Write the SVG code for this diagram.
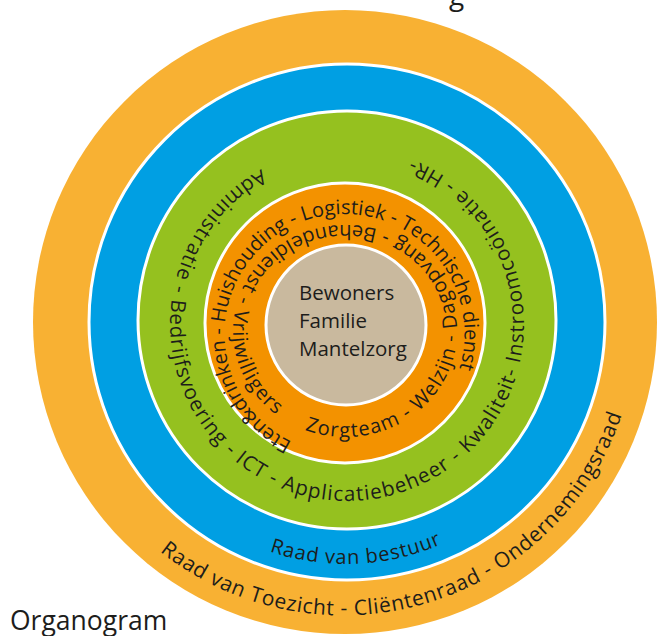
<svg xmlns="http://www.w3.org/2000/svg" xmlns:xlink="http://www.w3.org/1999/xlink" width="671" height="636" viewBox="0 0 671 636">
  <style>
    .t { font-family: "Open Sans", "Noto Sans", "Liberation Sans", sans-serif; fill: #1d1d1b; }
    .ring { stroke: #ffffff; stroke-width: 3; }
  </style>
  <defs>
    <path id="pOuter" d="M160.0,551.5 A294,294 0 0 0 630.1,384.5"/>
    <path id="pBlue" d="M269.5,551.5 A241,241 0 0 0 484.2,520.4"/>
    <path id="pGreen" d="M261.2,169.2 A177,177 0 0 0 230.9,457.6 A177,177 0 0 0 512.2,387.4 A177,177 0 0 0 350.1,147.0"/>
    <path id="pInner1" d="M291.9,441.9 A120,120 0 0 1 235.7,283.3 A120,120 0 0 1 395.2,225.2 A120,120 0 0 1 453.3,384.7"/>
    <path id="pInner2" d="M304.9,430.0 A112,106 0 0 0 455.9,316.2 A112,106 0 0 0 277.6,246.3 A112,106 0 0 0 299.4,427.8"/>
  </defs>

  <rect width="671" height="636" fill="#ffffff"/>

  <text class="t" x="449" y="5" font-size="28">g</text>

  <g id="raad-van-toezicht">
    <circle cx="345" cy="322" r="312" fill="#f8b133"/>
    <text class="t" font-size="21"><textPath xlink:href="#pOuter" href="#pOuter" textLength="564" lengthAdjust="spacing">Raad van Toezicht - Cliëntenraad - Ondernemingsraad</textPath></text>
  </g>

  <g id="raad-van-bestuur">
    <circle class="ring" cx="347" cy="322" r="258" fill="#009fe3"/>
    <text class="t" font-size="20"><textPath xlink:href="#pBlue" href="#pBlue" textLength="176" lengthAdjust="spacing">Raad van bestuur</textPath></text>
  </g>

  <g id="ondersteuning">
    <circle class="ring" cx="347" cy="320" r="209" fill="#95c11f"/>
    <text class="t" font-size="20.5"><textPath xlink:href="#pGreen" href="#pGreen" textLength="955" lengthAdjust="spacing">Administratie - Bedrijfsvoering - ICT - Applicatiebeheer - Kwaliteit- Instroomcoöinatie - HR-</textPath></text>
  </g>

  <g id="diensten">
    <circle class="ring" cx="345" cy="323" r="140" fill="#f39200"/>
    <text class="t" font-size="20"><textPath xlink:href="#pInner1" href="#pInner1" textLength="546" lengthAdjust="spacing">Eten&amp;drinken - Huishouding - Logistiek - Technische dienst</textPath></text>
    <text class="t" font-size="20"><textPath xlink:href="#pInner2" href="#pInner2" textLength="652" lengthAdjust="spacing">Zorgteam - Welzijn - Dagopvang - Behandeldienst - Vrijwilligers</textPath></text>
  </g>

  <g id="kern">
    <circle class="ring" cx="346" cy="325" r="80" fill="#c9b99e"/>
    <text class="t" font-size="20.5" x="299" y="300">Bewoners</text>
    <text class="t" font-size="20.5" x="299" y="328">Familie</text>
    <text class="t" font-size="20.5" x="299" y="356">Mantelzorg</text>
  </g>

  <text class="t" x="10" y="630" font-size="26.5">Organogram</text>
</svg>
